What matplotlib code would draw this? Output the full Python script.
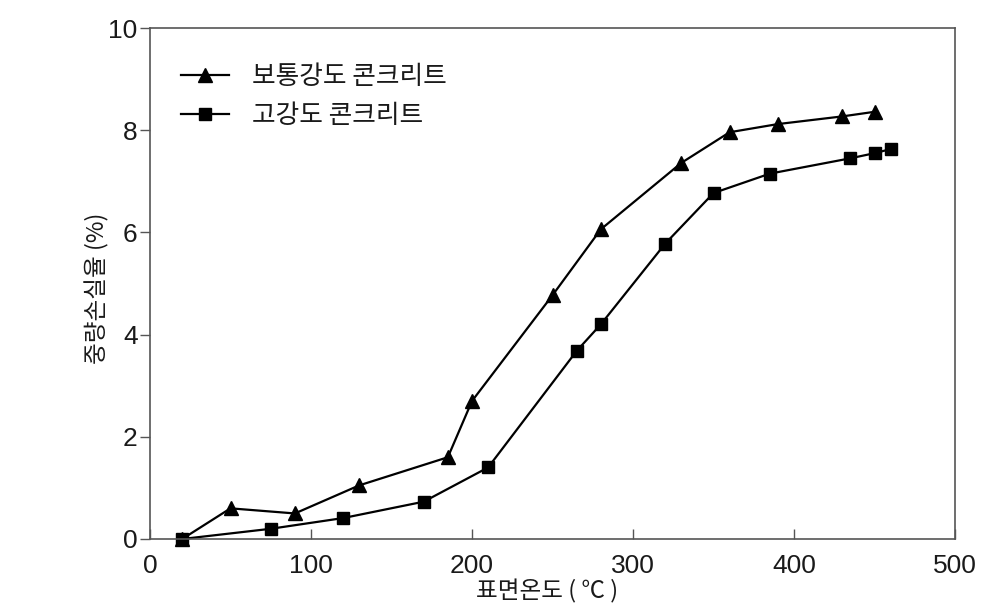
import matplotlib
matplotlib.use("Agg")
import matplotlib.pyplot as plt

# Data
normal_x = [20, 50, 90, 130, 185, 200, 250, 280, 330, 360, 390, 430, 450]
normal_y = [0.0, 0.6, 0.5, 1.05, 1.6, 2.7, 4.77, 6.06, 7.36, 7.96, 8.12, 8.27, 8.36]
high_x = [20, 75, 120, 170, 210, 265, 280, 320, 350, 385, 435, 450, 460]
high_y = [0.0, 0.2, 0.41, 0.73, 1.4, 3.68, 4.2, 5.78, 6.77, 7.15, 7.45, 7.55, 7.63]
series_labels = ["보통강도 콘크리트", "고강도 콘크리트"]
xticks = [0, 100, 200, 300, 400, 500]
yticks = [0, 2, 4, 6, 8, 10]
xlabel = "표면온도 ( ℃ )"
ylabel = "중량손실율 (%)"

plt.rcParams['font.family'] = ['Liberation Sans', 'Noto Sans CJK KR', 'DejaVu Sans']

fig = plt.figure(figsize=(10.02, 6.10), dpi=100)
ax = fig.add_axes([150/1002, 1-539/610, (955-150)/1002, (539-28)/610])

ax.plot(normal_x, normal_y, color='black', lw=1.6, marker='^', markersize=10.5,
        label=series_labels[0], clip_on=False)
ax.plot(high_x, high_y, color='black', lw=1.6, marker='s', markersize=8.5,
        label=series_labels[1], clip_on=False)

ax.set_xlim(0, 500)
ax.set_ylim(0, 10)
ax.set_xticks(xticks)
ax.set_yticks(yticks)

for s in ax.spines.values():
    s.set_color('#555555')
    s.set_linewidth(1.2)

ax.tick_params(axis='x', direction='in', length=7, width=1, color='#555555',
               labelsize=19, pad=11, labelcolor='#1a1a1a')
ax.tick_params(axis='y', direction='out', length=7, width=1, color='#555555',
               labelsize=19, pad=2, labelcolor='#1a1a1a')

cjk = ['Noto Sans CJK KR', 'DejaVu Sans']
ax.set_xlabel(xlabel, fontsize=17, family=cjk, color='#1a1a1a')
ax.xaxis.set_label_coords(0.493, -0.078)
ax.set_ylabel(ylabel, fontsize=17, family=cjk, color='#1a1a1a')
ax.yaxis.set_label_coords(-0.05, 0.49)

leg = ax.legend(loc='upper left', bbox_to_anchor=(0.039, 0.93), frameon=False,
                prop={'family': cjk, 'size': 18.5}, handlelength=1.85,
                handletextpad=0.9, labelspacing=0.5, borderpad=0, borderaxespad=0)
for t in leg.get_texts():
    t.set_color('#1a1a1a')

fig.savefig('out.png', dpi=100)
